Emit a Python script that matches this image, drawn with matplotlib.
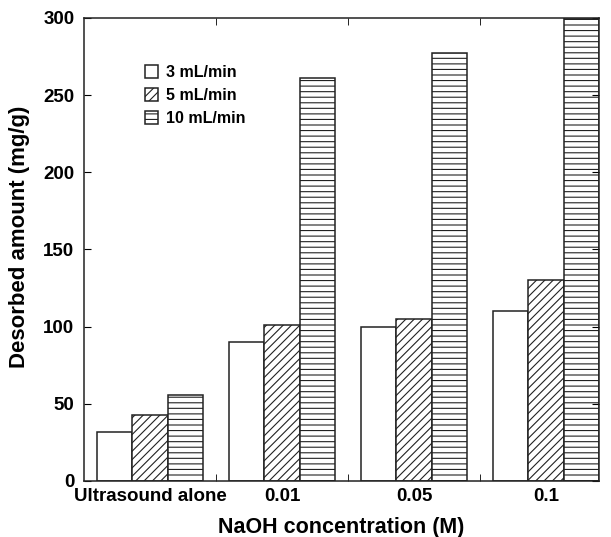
import matplotlib
matplotlib.use("Agg")
import matplotlib.pyplot as plt
import numpy as np

# values
categories = ['Ultrasound alone', '0.01', '0.05', '0.1']
flow_labels = ['3 mL/min', '5 mL/min', '10 mL/min']
flow_3 = [32, 90, 100, 110]
flow_5 = [43, 101, 105, 130]
flow_10 = [56, 261, 277, 300]

plt.rcParams['font.family'] = ['Liberation Sans', 'DejaVu Sans']
plt.rcParams['font.weight'] = 'bold'
plt.rcParams['hatch.linewidth'] = 0.8
plt.rcParams['hatch.color'] = '#333333'

fig = plt.figure(figsize=(6.11, 5.37), dpi=100)
ax = fig.add_axes([0.1375, 0.1043, 0.8425, 0.8622])

x = np.arange(len(categories))
w = 0.267
hatches = ['', '////', '---']
series = [flow_3, flow_5, flow_10]
for i, (vals, lab, h) in enumerate(zip(series, flow_labels, hatches)):
    ax.bar(x + (i - 1) * w, vals, w, facecolor='white', edgecolor='#222222',
           linewidth=1.1, hatch=h, label=lab)

ax.set_xlim(-0.5, 3.4)
ax.set_ylim(0, 300)
ax.set_yticks(np.arange(0, 301, 50))
ax.set_xticks(x)
ax.set_xticklabels(categories)
ax.set_xticks([0.5, 1.5, 2.5], minor=True)
ax.tick_params(axis='x', which='major', length=0, labelsize=13.5, pad=5)
ax.tick_params(axis='x', which='minor', direction='in', length=5, top=True, bottom=True)
ax.tick_params(axis='y', which='major', direction='in', length=5, right=True,
               labelsize=13.5, pad=7)
for s in ax.spines.values():
    s.set_linewidth(1.1)
    s.set_color('#222222')

ax.set_xlabel('NaOH concentration (M)', fontsize=15.5, fontweight='bold', labelpad=9)
ax.set_ylabel('Desorbed amount (mg/g)', fontsize=16, fontweight='bold')
ax.yaxis.set_label_coords(-0.104, 0.527)

ax.legend(loc='upper left', bbox_to_anchor=(0.09, 0.93), frameon=False,
          fontsize=11.5, handlelength=0.85, handleheight=0.9, handletextpad=0.5,
          labelspacing=0.5)

fig.savefig('out.png', dpi=100)
